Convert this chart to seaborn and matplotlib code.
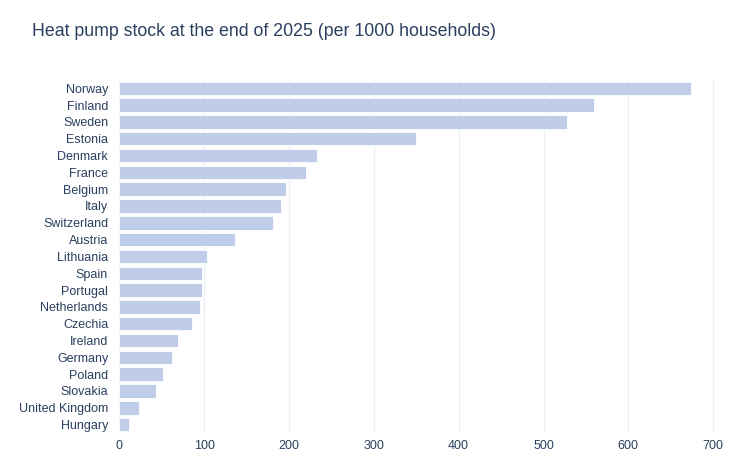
import pandas as pd
import matplotlib.pyplot as plt
import seaborn as sns

countries = ["Norway", "Finland", "Sweden", "Estonia", "Denmark", "France",
             "Belgium", "Italy", "Switzerland", "Austria", "Lithuania", "Spain",
             "Portugal", "Netherlands", "Czechia", "Ireland", "Germany", "Poland",
             "Slovakia", "United Kingdom", "Hungary"]
stock = [674, 559, 528, 350, 233, 220, 196, 191, 181, 137, 103, 98,
         97, 95, 86, 69, 62, 52, 43, 23, 11]
xticks = [0, 100, 200, 300, 400, 500, 600, 700]

df = pd.DataFrame({"country": countries, "stock": stock})

sns.set_style("white")
plt.rcParams["font.family"] = ["Liberation Sans", "DejaVu Sans"]

text_col = "#2a3f5f"

fig = plt.figure(figsize=(7.5, 4.74), dpi=100)
ax = fig.add_axes([0.159, 0.0865, 0.801, 0.745])

sns.barplot(data=df, x="stock", y="country", orient="h", color="#c0cde8",
            saturation=1, width=0.8, edgecolor="white", linewidth=0.6, ax=ax,
            zorder=2)

ax.set_xlim(0, 708)
ax.set_ylim(len(countries) - 0.5, -0.5)
ax.set_xticks(xticks)
ax.grid(axis="x", color="#ebf0f8", linewidth=1, zorder=0)
ax.set_axisbelow(True)
for s in ax.spines.values():
    s.set_visible(False)
ax.tick_params(axis="both", length=0, labelsize=9, colors=text_col)
ax.tick_params(axis="y", pad=8)
ax.tick_params(axis="x", pad=5)
ax.set_xlabel("")
ax.set_ylabel("")

fig.text(0.043, 0.933, "Heat pump stock at the end of 2025 (per 1000 households)",
         fontsize=12.8, color=text_col, ha="left", va="center")

fig.savefig("out.png", dpi=100)
